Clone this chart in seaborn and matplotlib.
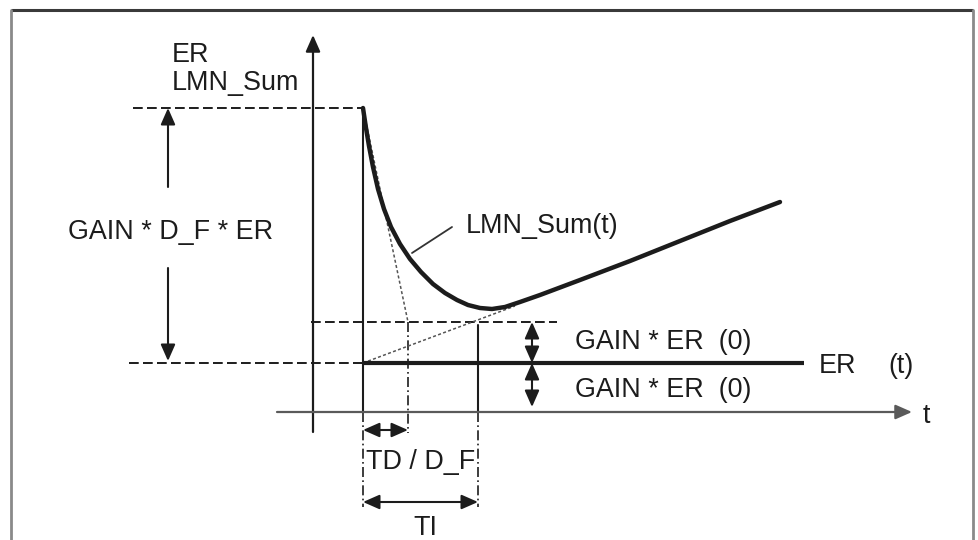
import matplotlib

matplotlib.use("Agg")
import matplotlib.pyplot as plt
import pandas as pd
import seaborn as sns

# --- diagram data (pixel-like units, y grows downward) ---
# LMN_Sum(t) response
curve_x = [363, 366, 369, 373, 378, 384, 391, 400, 410, 421, 433, 445, 457,
           468, 480, 492, 505, 520, 540, 580, 630, 680, 730, 780]
curve_y = [108, 128, 146, 167, 189, 209, 227, 244, 259, 272, 284, 293, 300,
           305, 308, 309, 307, 302, 295, 280, 261, 241, 221, 202]

# key levels / instants
T_STEP = 363      # step instant
T_TD = 408        # TD / D_F
T_TI = 478        # TI
T_AXIS = 313      # vertical axis position
T_END_ER = 804    # end of ER(t) line
Y_TOP = 108       # GAIN * D_F * ER peak
Y_GAIN = 322      # 2 * GAIN * ER level
Y_ER = 363        # ER level
Y_AXIS = 412      # time axis
Y_LOW = 407       # lower GAIN*ER arrow end

labels_left = ["ER", "LMN_Sum"]
label_gain_df = "GAIN * D_F * ER"
label_curve = "LMN_Sum(t)"
label_gain = "GAIN * ER  (0)"
label_td = "TD / D_F"
label_ti = "TI"

INK = "#1c1c1c"
GREY = "#5a5a5a"
FONT = 19.4

sns.set_theme(style="white")
plt.rcParams["font.family"] = ["Liberation Sans", "DejaVu Sans"]

fig = plt.figure(figsize=(9.79, 5.40), dpi=100)
ax = fig.add_axes([0, 0, 1, 1])

# frame
ax.plot([11, 973], [10, 10], color="#3a3a3a", lw=2.2, solid_capstyle="butt")
ax.plot([11, 11], [10, 540], color="#8a8a8a", lw=2.0)
ax.plot([973, 973], [10, 540], color="#8a8a8a", lw=2.0)


def arrow(x0, y0, x1, y1, style="-|>", color=INK, lw=1.5):
    ax.annotate("", xy=(x1, y1), xytext=(x0, y0),
                arrowprops=dict(arrowstyle=f"{style},head_length=0.5,head_width=0.22",
                                color=color, lw=lw, mutation_scale=20,
                                shrinkA=0, shrinkB=0))


dash = (0, (5, 2.2))
dashdot = (0, (6, 2, 1, 2))

# axes
arrow(T_AXIS, 432, T_AXIS, 35, color=INK, lw=1.6)
arrow(277, Y_AXIS, 912, Y_AXIS, color=GREY, lw=1.6)

# dashed reference levels
ax.plot([133, T_STEP], [Y_TOP, Y_TOP], color=INK, lw=1.4, ls=dash)
ax.plot([129, T_STEP], [Y_ER, Y_ER], color=INK, lw=1.4, ls=dash)
ax.plot([311, 557], [Y_GAIN, Y_GAIN], color=INK, lw=1.4, ls=dash)

# vertical marker lines
ax.plot([T_STEP, T_STEP], [Y_TOP, Y_AXIS], color=INK, lw=1.5)
ax.plot([T_STEP, T_STEP], [Y_AXIS, 507], color=INK, lw=1.2, ls=dashdot)
ax.plot([T_TD, T_TD], [Y_GAIN, 433], color=INK, lw=1.2, ls=dashdot)
ax.plot([T_TI, T_TI], [Y_GAIN + 3, Y_AXIS], color=INK, lw=1.5)
ax.plot([T_TI, T_TI], [Y_AXIS, 507], color=INK, lw=1.2, ls=dashdot)

# tangent lines (dotted)
ax.plot([T_STEP, T_TD], [Y_TOP, Y_GAIN], color="#555555", lw=1.1, ls=(0, (2, 1.5)))
ax.plot([T_STEP, 515], [Y_ER, 306], color="#555555", lw=1.1, ls=(0, (2, 1.5)))

# ER(t)
ax.plot([T_STEP, T_END_ER], [Y_ER, Y_ER], color=INK, lw=3.0, solid_capstyle="butt")

# LMN_Sum(t)
df = pd.DataFrame({"t": curve_x, "v": curve_y})
sns.lineplot(data=df, x="t", y="v", sort=False, estimator=None, color=INK,
             lw=3.2, ax=ax, solid_joinstyle="round")
ax.plot([452, 412], [227, 253], color="#333333", lw=1.3)

# left double arrow
arrow(168, 187, 168, Y_TOP)
arrow(168, 268, 168, Y_ER - 2)

# right double arrows
arrow(532, Y_GAIN, 532, Y_ER, style="<|-|>")
arrow(532, Y_ER, 532, Y_LOW, style="<|-|>")

# time spans
arrow(T_STEP, 430, T_TD, 430, style="<|-|>")
arrow(T_STEP, 502, T_TI, 502, style="<|-|>")

# texts
txt = dict(fontsize=FONT, color=INK, va="baseline")
ax.text(172, 62, labels_left[0], ha="left", **txt)
ax.text(172, 90, labels_left[1], ha="left", **txt)
ax.text(171, 239, label_gain_df, ha="center", **txt)
ax.text(466, 233, label_curve, ha="left", **txt)
ax.text(575, 349, label_gain, ha="left", **txt)
ax.text(575, 397, label_gain, ha="left", **txt)
ax.text(819, 373, "ER", ha="left", **txt)
ax.text(888, 373, "(t)", ha="left", **txt)
ax.text(923, 423, "t", ha="left", **txt)
ax.text(366, 469, label_td, ha="left", **txt)
ax.text(425, 535, label_ti, ha="center", **txt)

ax.set_xlim(0, 979)
ax.set_ylim(540, 0)
ax.axis("off")

fig.savefig("out.png", dpi=100, facecolor="white")
